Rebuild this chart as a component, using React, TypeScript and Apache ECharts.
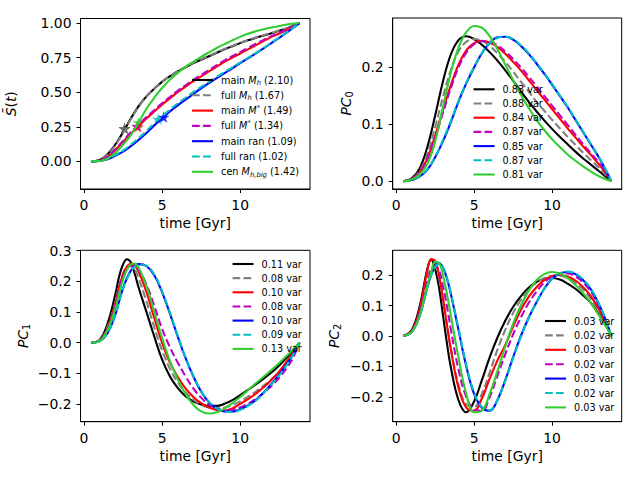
import React, { useEffect, useRef } from "react";
import * as echarts from "echarts";

const FONT = "DejaVu Sans";

// time grids [Gyr]
const G1 = [0.45, 1, 1.5, 2, 2.5, 3, 3.5, 4, 4.5, 5, 5.5, 6, 6.5, 7, 7.5, 8, 8.5, 9, 9.5, 10, 10.5, 11, 11.5, 12, 12.5, 13, 13.4, 13.8];
const G2 = [0.45, 1, 1.5, 2, 2.25, 2.5, 2.75, 3, 3.25, 3.5, 4, 4.5, 5, 5.5, 6, 6.5, 7, 7.5, 8, 8.5, 9, 9.5, 10, 10.5, 11, 11.5, 12, 12.5, 13, 13.4, 13.8];

// Panel 1: normalised cumulative S(t)
const S_MAIN_MH = [0, 0.01, 0.05, 0.12, 0.21, 0.31, 0.40, 0.47, 0.525, 0.575, 0.615, 0.65, 0.68, 0.71, 0.735, 0.76, 0.785, 0.81, 0.833, 0.855, 0.875, 0.893, 0.91, 0.927, 0.945, 0.962, 0.98, 1.0];
const S_FULL_MH = [0, 0.01, 0.045, 0.115, 0.205, 0.305, 0.395, 0.468, 0.525, 0.575, 0.615, 0.652, 0.683, 0.712, 0.738, 0.763, 0.788, 0.812, 0.835, 0.857, 0.877, 0.895, 0.912, 0.929, 0.946, 0.963, 0.98, 1.0];
const S_MAIN_MS = [0, 0.005, 0.03, 0.08, 0.14, 0.2, 0.255, 0.31, 0.36, 0.41, 0.455, 0.5, 0.54, 0.58, 0.615, 0.65, 0.685, 0.72, 0.75, 0.78, 0.81, 0.84, 0.87, 0.9, 0.925, 0.952, 0.975, 1.0];
const S_FULL_MS = [0, 0.005, 0.032, 0.085, 0.148, 0.21, 0.265, 0.32, 0.37, 0.42, 0.465, 0.51, 0.55, 0.59, 0.625, 0.66, 0.695, 0.73, 0.76, 0.79, 0.82, 0.85, 0.878, 0.905, 0.93, 0.955, 0.977, 1.0];
const S_MAIN_RAN = [0, 0.003, 0.015, 0.04, 0.07, 0.11, 0.155, 0.205, 0.26, 0.31, 0.36, 0.405, 0.447, 0.487, 0.527, 0.565, 0.602, 0.638, 0.673, 0.71, 0.745, 0.78, 0.817, 0.855, 0.893, 0.933, 0.966, 1.0];
const S_FULL_RAN = [0, 0.004, 0.018, 0.045, 0.078, 0.12, 0.168, 0.22, 0.275, 0.325, 0.373, 0.418, 0.46, 0.5, 0.538, 0.575, 0.611, 0.646, 0.68, 0.714, 0.748, 0.783, 0.82, 0.858, 0.895, 0.935, 0.967, 1.0];
const S_CEN_BIG = [0, 0.003, 0.02, 0.06, 0.12, 0.19, 0.28, 0.38, 0.46, 0.53, 0.59, 0.64, 0.683, 0.72, 0.755, 0.788, 0.82, 0.848, 0.875, 0.9, 0.922, 0.94, 0.955, 0.968, 0.979, 0.989, 0.995, 1.0];
const STAR_X = [2.6, 2.6, 3.45, 3.4, 5.1, 4.75, 3.5];
const STAR_Y = [0.237, 0.235, 0.25, 0.255, 0.32, 0.305, 0.28];

// Panel 2: PC0
const P0_BLACK = [0, 0.005, 0.022, 0.06, 0.115, 0.175, 0.222, 0.248, 0.255, 0.25, 0.24, 0.227, 0.212, 0.195, 0.177, 0.158, 0.14, 0.123, 0.107, 0.092, 0.078, 0.065, 0.052, 0.04, 0.029, 0.018, 0.009, 0];
const P0_GRAY = [0, 0.004, 0.018, 0.048, 0.095, 0.148, 0.195, 0.228, 0.245, 0.25, 0.247, 0.238, 0.225, 0.21, 0.193, 0.175, 0.158, 0.14, 0.124, 0.108, 0.093, 0.078, 0.064, 0.05, 0.037, 0.024, 0.012, 0];
const P0_RED = [0, 0.004, 0.015, 0.04, 0.08, 0.125, 0.168, 0.205, 0.23, 0.243, 0.247, 0.244, 0.236, 0.224, 0.21, 0.195, 0.178, 0.161, 0.144, 0.127, 0.11, 0.093, 0.077, 0.061, 0.046, 0.03, 0.016, 0];
const P0_MAG = [0, 0.004, 0.014, 0.038, 0.076, 0.12, 0.163, 0.2, 0.226, 0.241, 0.246, 0.245, 0.239, 0.228, 0.215, 0.2, 0.184, 0.167, 0.15, 0.133, 0.116, 0.099, 0.082, 0.065, 0.049, 0.033, 0.018, 0];
const P0_BLUE = [0, 0.002, 0.008, 0.02, 0.042, 0.07, 0.103, 0.14, 0.172, 0.2, 0.225, 0.243, 0.253, 0.254, 0.249, 0.238, 0.224, 0.207, 0.189, 0.17, 0.15, 0.13, 0.108, 0.086, 0.064, 0.042, 0.022, 0];
const P0_CYAN = [0, 0.002, 0.009, 0.021, 0.043, 0.072, 0.105, 0.141, 0.173, 0.201, 0.225, 0.243, 0.252, 0.254, 0.25, 0.239, 0.225, 0.208, 0.19, 0.171, 0.151, 0.131, 0.109, 0.087, 0.065, 0.043, 0.023, 0];
const P0_GREEN = [0, 0.003, 0.012, 0.03, 0.07, 0.13, 0.19, 0.235, 0.262, 0.273, 0.27, 0.255, 0.232, 0.205, 0.178, 0.152, 0.129, 0.108, 0.09, 0.074, 0.06, 0.047, 0.036, 0.026, 0.017, 0.009, 0.004, 0];

// Panel 3: PC1
const P1_BLACK = [0, 0.008, 0.06, 0.155, 0.215, 0.255, 0.272, 0.262, 0.225, 0.18, 0.1, 0.02, -0.055, -0.11, -0.148, -0.175, -0.192, -0.202, -0.207, -0.207, -0.2, -0.188, -0.172, -0.155, -0.137, -0.118, -0.098, -0.075, -0.048, -0.025, 0];
const P1_GRAY = [0, 0.007, 0.05, 0.13, 0.185, 0.225, 0.248, 0.252, 0.24, 0.21, 0.135, 0.05, -0.025, -0.085, -0.13, -0.163, -0.187, -0.203, -0.212, -0.215, -0.212, -0.204, -0.192, -0.177, -0.16, -0.141, -0.12, -0.096, -0.067, -0.036, 0];
const P1_RED = [0, 0.006, 0.045, 0.125, 0.18, 0.222, 0.248, 0.257, 0.252, 0.232, 0.165, 0.08, 0.0, -0.065, -0.112, -0.15, -0.178, -0.198, -0.212, -0.22, -0.222, -0.215, -0.2, -0.185, -0.167, -0.146, -0.122, -0.095, -0.06, -0.032, 0];
const P1_MAG = [0, 0.006, 0.042, 0.118, 0.172, 0.214, 0.24, 0.25, 0.25, 0.238, 0.19, 0.12, 0.045, -0.015, -0.065, -0.11, -0.15, -0.18, -0.202, -0.215, -0.222, -0.22, -0.212, -0.2, -0.184, -0.165, -0.142, -0.115, -0.082, -0.048, 0];
const P1_BLUE = [0, 0.005, 0.03, 0.09, 0.135, 0.177, 0.21, 0.235, 0.25, 0.256, 0.25, 0.22, 0.165, 0.095, 0.02, -0.05, -0.11, -0.16, -0.195, -0.215, -0.225, -0.226, -0.218, -0.205, -0.188, -0.163, -0.135, -0.105, -0.07, -0.038, 0];
const P1_CYAN = [0, 0.005, 0.03, 0.088, 0.133, 0.175, 0.208, 0.233, 0.248, 0.255, 0.251, 0.222, 0.168, 0.098, 0.023, -0.048, -0.108, -0.158, -0.194, -0.215, -0.225, -0.227, -0.22, -0.207, -0.19, -0.165, -0.137, -0.107, -0.072, -0.039, 0];
const P1_GREEN = [0, 0.005, 0.04, 0.11, 0.16, 0.205, 0.238, 0.255, 0.258, 0.245, 0.185, 0.1, 0.015, -0.06, -0.12, -0.168, -0.203, -0.225, -0.232, -0.228, -0.215, -0.198, -0.178, -0.156, -0.133, -0.112, -0.09, -0.067, -0.042, -0.022, 0];

// Panel 4: PC2
const P2_BLACK = [0, 0.02, 0.095, 0.22, 0.25, 0.22, 0.16, 0.07, -0.02, -0.1, -0.21, -0.25, -0.215, -0.145, -0.07, -0.005, 0.05, 0.095, 0.13, 0.158, 0.177, 0.188, 0.19, 0.185, 0.172, 0.155, 0.133, 0.108, 0.072, 0.04, 0];
const P2_GRAY = [0, 0.017, 0.08, 0.19, 0.222, 0.225, 0.19, 0.12, 0.04, -0.04, -0.16, -0.225, -0.232, -0.19, -0.12, -0.045, 0.02, 0.075, 0.118, 0.152, 0.175, 0.19, 0.197, 0.198, 0.19, 0.175, 0.152, 0.122, 0.082, 0.045, 0];
const P2_RED = [0, 0.017, 0.085, 0.215, 0.252, 0.245, 0.2, 0.125, 0.04, -0.04, -0.17, -0.235, -0.245, -0.205, -0.14, -0.08, -0.03, 0.03, 0.085, 0.128, 0.16, 0.183, 0.196, 0.2, 0.195, 0.182, 0.16, 0.13, 0.088, 0.048, 0];
const P2_MAG = [0, 0.015, 0.075, 0.18, 0.215, 0.23, 0.215, 0.165, 0.1, 0.025, -0.11, -0.2, -0.24, -0.245, -0.2, -0.13, -0.06, 0.005, 0.06, 0.108, 0.145, 0.175, 0.194, 0.204, 0.205, 0.195, 0.175, 0.145, 0.1, 0.055, 0];
const P2_BLUE = [0, 0.013, 0.065, 0.16, 0.2, 0.228, 0.238, 0.225, 0.19, 0.14, 0.02, -0.1, -0.19, -0.235, -0.245, -0.21, -0.145, -0.07, 0.0, 0.06, 0.11, 0.155, 0.188, 0.205, 0.21, 0.203, 0.183, 0.152, 0.105, 0.058, 0];
const P2_CYAN = [0, 0.013, 0.064, 0.158, 0.198, 0.226, 0.237, 0.226, 0.192, 0.143, 0.025, -0.095, -0.186, -0.233, -0.243, -0.21, -0.147, -0.073, -0.003, 0.058, 0.11, 0.155, 0.188, 0.206, 0.211, 0.205, 0.185, 0.154, 0.107, 0.059, 0];
const P2_GREEN = [0, 0.013, 0.066, 0.165, 0.21, 0.243, 0.24, 0.2, 0.14, 0.07, -0.07, -0.19, -0.25, -0.245, -0.19, -0.115, -0.035, 0.04, 0.1, 0.148, 0.183, 0.203, 0.21, 0.205, 0.19, 0.168, 0.14, 0.108, 0.068, 0.036, 0];

// legend labels
const TL_LABELS = [
  "main {i|M}{sub|h} (2.10)",
  "full {i|M}{sub|h} (1.67)",
  "main {i|M}{sup|*} (1.49)",
  "full {i|M}{sup|*} (1.34)",
  "main ran (1.09)",
  "full ran (1.02)",
  "cen {i|M}{sub|h,big} (1.42)",
];
const TR_LABELS = ["0.83 var", "0.88 var", "0.84 var", "0.87 var", "0.85 var", "0.87 var", "0.81 var"];
const BL_LABELS = ["0.11 var", "0.08 var", "0.10 var", "0.08 var", "0.10 var", "0.09 var", "0.13 var"];
const BR_LABELS = ["0.03 var", "0.02 var", "0.03 var", "0.02 var", "0.03 var", "0.02 var", "0.03 var"];

// tick values
const X_TICKS = [0, 5, 10];
const Y_TICKS_S = [0, 0.25, 0.5, 0.75, 1];
const Y_TICKS_PC0 = [0, 0.1, 0.2];
const Y_TICKS_PC1 = [-0.2, -0.1, 0, 0.1, 0.2, 0.3];
const Y_TICKS_PC2 = [-0.2, -0.1, 0, 0.1, 0.2];

const COLORS = ["#000000", "#808080", "#ff0000", "#bf00bf", "#0000ff", "#00bfbf", "#32cd32"];
const DASHED = [false, true, false, true, false, true, false];
const DASH = [7.7, 3.3];

const STAR_PATH =
  "path://M0,-1L0.2245,-0.309L0.951,-0.309L0.363,0.118L0.588,0.809L0,0.382L-0.588,0.809L-0.363,0.118L-0.951,-0.309L-0.2245,-0.309Z";

const PANELS = [
  {
    x: G1, ys: [S_MAIN_MH, S_FULL_MH, S_MAIN_MS, S_FULL_MS, S_MAIN_RAN, S_FULL_RAN, S_CEN_BIG], labels: TL_LABELS,
    grid: { left: 80.5, top: 18.5, width: 229.5, height: 170.5 },
    yMin: -0.2, yMax: 1.033, yTicks: Y_TICKS_S, dec: 2, yName: "{i|S̄}({i|t})", yGap: 61,
    legend: { left: 191, top: 73.5, gap: 2.3, lh: 13 },
  },
  {
    x: G1, ys: [P0_BLACK, P0_GRAY, P0_RED, P0_MAG, P0_BLUE, P0_CYAN, P0_GREEN], labels: TR_LABELS,
    grid: { left: 392.7, top: 18, width: 229, height: 171 },
    yMin: -0.0137, yMax: 0.287, yTicks: Y_TICKS_PC0, dec: 1, yName: "{i|PC}{sub|0}", yGap: 38,
    legend: { left: 472.5, top: 83.3, gap: 2.2, lh: 12 },
  },
  {
    x: G2, ys: [P1_BLACK, P1_GRAY, P1_RED, P1_MAG, P1_BLUE, P1_CYAN, P1_GREEN], labels: BL_LABELS,
    grid: { left: 80.5, top: 250.3, width: 229.5, height: 171.4 },
    yMin: -0.2586, yMax: 0.3013, yTicks: Y_TICKS_PC1, dec: 1, yName: "{i|PC}{sub|1}", yGap: 49,
    legend: { left: 231.5, top: 258, gap: 2.15, lh: 12 },
  },
  {
    x: G2, ys: [P2_BLACK, P2_GRAY, P2_RED, P2_MAG, P2_BLUE, P2_CYAN, P2_GREEN], labels: BR_LABELS,
    grid: { left: 392.7, top: 250.3, width: 229, height: 171.4 },
    yMin: -0.281, yMax: 0.281, yTicks: Y_TICKS_PC2, dec: 1, yName: "{i|PC}{sub|2}", yGap: 50,
    legend: { left: 544, top: 315, gap: 2.4, lh: 12 },
  },
];

function fmt(v: number, dec: number) {
  const s = Math.abs(v).toFixed(dec);
  return v < -1e-9 ? "\u2212" + s : s;
}

function buildOption() {
  const grid: any[] = [];
  const xAxis: any[] = [];
  const yAxis: any[] = [];
  const legend: any[] = [];
  const series: any[] = [];

  PANELS.forEach((p, pi) => {
    grid.push({
      ...p.grid,
      show: true,
      borderColor: "#000",
      borderWidth: 1,
      backgroundColor: "transparent",
      containLabel: false,
      outerBoundsMode: "none",
    });
    xAxis.push({
      type: "value",
      gridIndex: pi,
      min: -0.22,
      max: 14.47,
      axisLine: { show: true, onZero: false, lineStyle: { color: "#000", width: 1 } },
      axisTick: { show: true, inside: false, length: 4, lineStyle: { color: "#000", width: 1 }, customValues: X_TICKS },
      axisLabel: {
        show: true,
        customValues: X_TICKS,
        formatter: (v: number) => String(v),
        color: "#000",
        fontSize: 13.9,
        fontFamily: FONT,
        margin: 9,
      },
      splitLine: { show: false },
      name: "time [Gyr]",
      nameLocation: "middle",
      nameGap: 27,
      nameTextStyle: { color: "#000", fontSize: 13.9, fontFamily: FONT },
    });
    yAxis.push({
      type: "value",
      gridIndex: pi,
      min: p.yMin,
      max: p.yMax,
      axisLine: { show: true, onZero: false, lineStyle: { color: "#000", width: 1 } },
      axisTick: { show: true, inside: false, length: 4, lineStyle: { color: "#000", width: 1 }, customValues: p.yTicks },
      axisLabel: {
        show: true,
        customValues: p.yTicks,
        formatter: (v: number) => fmt(v, p.dec),
        color: "#000",
        fontSize: 13.9,
        fontFamily: FONT,
        margin: 9,
      },
      splitLine: { show: false },
      name: p.yName,
      nameLocation: "middle",
      nameGap: p.yGap,
      nameRotate: 90,
      nameTextStyle: {
        color: "#000",
        fontSize: 13.9,
        fontFamily: FONT,
        rich: {
          i: { fontStyle: "italic", fontSize: 13.9, fontFamily: FONT, color: "#000", lineHeight: 17 },
          sub: { fontSize: 9.7, fontFamily: FONT, color: "#000", verticalAlign: "bottom", lineHeight: 9 },
        },
      },
    });

    const lh = p.legend.lh;
    const legendData: any[] = [];
    const labelMap: Record<string, string> = {};
    p.ys.forEach((ys, si) => {
      const name = `p${pi}s${si}`;
      labelMap[name] = p.labels[si];
      legendData.push({
        name,
        itemStyle: { opacity: 0 },
        lineStyle: { color: COLORS[si], width: 2.1, type: DASHED[si] ? DASH : "solid" },
      });
      series.push({
        type: "line",
        name,
        xAxisIndex: pi,
        yAxisIndex: pi,
        data: p.x.map((x, k) => [x, ys[k]]),
        symbol: "none",
        showSymbol: false,
        smooth: 0.4,
        silent: true,
        lineStyle: { color: COLORS[si], width: 2.1, type: DASHED[si] ? DASH : "solid" },
        itemStyle: { color: COLORS[si] },
        emphasis: { disabled: true },
      });
      if (pi === 0) {
        series.push({
          type: "scatter",
          name: `star${si}`,
          xAxisIndex: 0,
          yAxisIndex: 0,
          data: [[STAR_X[si], STAR_Y[si]]],
          symbol: STAR_PATH,
          symbolSize: [12, 11.5],
          silent: true,
          itemStyle: { color: COLORS[si] },
          emphasis: { disabled: true },
        });
      }
    });

    legend.push({
      orient: "vertical",
      left: p.legend.left,
      top: p.legend.top,
      padding: 0,
      itemGap: p.legend.gap,
      itemWidth: 21,
      itemHeight: lh,
      selectedMode: false,
      data: legendData,
      itemStyle: { opacity: 0 },
      formatter: (name: string) => labelMap[name],
      textStyle: {
        color: "#000",
        fontSize: 9.7,
        fontFamily: FONT,
        lineHeight: lh,
        padding: [0, 0, 0, 3],
        rich: {
          i: { fontStyle: "italic", fontSize: 9.7, fontFamily: FONT, color: "#000", lineHeight: lh },
          sub: { fontStyle: "italic", fontSize: 6.8, fontFamily: FONT, color: "#000", verticalAlign: "bottom", lineHeight: 7 },
          sup: { fontSize: 6.8, fontFamily: FONT, color: "#000", verticalAlign: "top", lineHeight: 7 },
        },
      },
    });
  });

  return {
    animation: false,
    backgroundColor: "#ffffff",
    grid,
    xAxis,
    yAxis,
    legend,
    series,
  };
}

export default function App() {
  const ref = useRef<HTMLDivElement>(null);
  useEffect(() => {
    if (!ref.current) return;
    const chart = echarts.init(ref.current, undefined, { renderer: "svg" });
    chart.setOption(buildOption() as any);
    return () => chart.dispose();
  }, []);
  return (
    <div
      ref={ref}
      style={{ position: "absolute", left: 0, top: 0, width: 640, height: 480, background: "#fff" }}
    />
  );
}
